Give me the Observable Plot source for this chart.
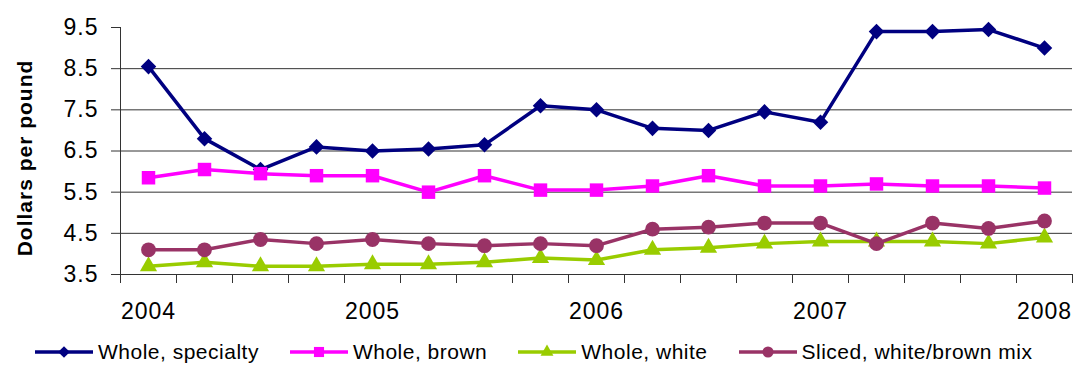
<!DOCTYPE html>
<html>
<head>
<meta charset="utf-8">
<script src="https://cdn.jsdelivr.net/npm/d3@7"></script>
<script src="https://cdn.jsdelivr.net/npm/@observablehq/plot@0.6"></script>
<style>
  body { margin: 0; background: #fff; font-family: "Liberation Sans", Arial, sans-serif; }
  #chart svg text { letter-spacing: 1px; }
  #legend { display: flex; align-items: center; height: 28px; padding-left: 35px; gap: 31px;
            font-size: 21px; letter-spacing: 0.5px; color: #000; }
  .item { display: flex; align-items: center; gap: 5px; white-space: nowrap; }
</style>
</head>
<body>
<div id="chart"></div>
<div id="legend"></div>
<script>
// ---- data ----
const quarters = [
  "2004 Q1", "2004 Q2", "2004 Q3", "2004 Q4",
  "2005 Q1", "2005 Q2", "2005 Q3", "2005 Q4",
  "2006 Q1", "2006 Q2", "2006 Q3", "2006 Q4",
  "2007 Q1", "2007 Q2", "2007 Q3", "2007 Q4",
  "2008 Q1"
];
const yearLabels = ["2004", "2005", "2006", "2007", "2008"];
const yTicks = [3.5, 4.5, 5.5, 6.5, 7.5, 8.5, 9.5];
const seriesNames = ["Whole, specialty", "Whole, brown", "Whole, white", "Sliced, white/brown mix"];
const wholeSpecialty = [8.55, 6.8, 6.05, 6.6, 6.5, 6.55, 6.65, 7.6, 7.5, 7.05, 7.0, 7.45, 7.2, 9.4, 9.4, 9.45, 9.0];
const wholeBrown     = [5.85, 6.05, 5.95, 5.9, 5.9, 5.5, 5.9, 5.55, 5.55, 5.65, 5.9, 5.65, 5.65, 5.7, 5.65, 5.65, 5.6];
const wholeWhite     = [3.7, 3.8, 3.7, 3.7, 3.75, 3.75, 3.8, 3.9, 3.85, 4.1, 4.15, 4.25, 4.3, 4.3, 4.3, 4.25, 4.4];
const slicedMix      = [4.1, 4.1, 4.35, 4.25, 4.35, 4.25, 4.2, 4.25, 4.2, 4.6, 4.65, 4.75, 4.75, 4.25, 4.75, 4.62, 4.8];

// ---- styling ----
const seriesValues = [wholeSpecialty, wholeBrown, wholeWhite, slicedMix];
const seriesColors = ["#000080", "#FF00FF", "#99CC00", "#993366"];
const seriesSymbols = ["diamond2", "square", "triangle", "circle"];
const seriesR = [7, 7.6, 6.4, 7.4];
const d3Symbols = [d3.symbolDiamond2, d3.symbolSquare, d3.symbolTriangle, d3.symbolCircle];

const series = seriesNames.map((name, k) => ({
  name, color: seriesColors[k], symbol: seriesSymbols[k], r: seriesR[k],
  rows: quarters.map((q, i) => ({ i, q, v: seriesValues[k][i] }))
}));

const yearPositions = yearLabels.map(y => quarters.indexOf(y + " Q1"));
const boundaries = d3.range(-0.5, quarters.length, 1);

const marks = [
  Plot.gridY(yTicks.slice(1, -1), { stroke: "#333", strokeOpacity: 1 }),
  Plot.ruleX([-0.5], { y1: yTicks[0], y2: yTicks[yTicks.length - 1], stroke: "#333" }),
  Plot.ruleY([yTicks[0]], { stroke: "#333" }),
  Plot.axisY(yTicks, { tickSize: 9, tickPadding: 13, fontSize: 23, label: null, stroke: "#333", tickFormat: d => d.toFixed(1) }),
  Plot.axisX(boundaries, { tickSize: 9, tickFormat: () => "", label: null, stroke: "#333" }),
  Plot.axisX(yearPositions, { tickSize: 0, tickPadding: 28, fontSize: 23, label: null, tickFormat: i => quarters[i].slice(0, 4) }),
  Plot.text(["Dollars per pound"], { frameAnchor: "left", textAnchor: "middle", lineAnchor: "middle", dx: -95, dy: 7, rotate: -90, fontWeight: "bold", fontSize: 21, fill: "#000" })
];
for (const s of series) {
  marks.push(Plot.line(s.rows, { x: "i", y: "v", stroke: s.color, strokeWidth: 3.5, strokeLinejoin: "round" }));
  marks.push(Plot.dot(s.rows, { x: "i", y: "v", symbol: s.symbol, r: s.r, fill: s.color, stroke: "none" }));
}

const chart = Plot.plot({
  width: 1076,
  height: 338,
  marginTop: 27,
  marginBottom: 64,
  marginLeft: 120,
  marginRight: 4,
  style: { fontFamily: '"Liberation Sans", Arial, sans-serif', fontSize: "23px", color: "#000", background: "#fff", overflow: "visible" },
  x: { domain: [-0.5, quarters.length - 0.5], axis: null },
  y: { domain: [yTicks[0], yTicks[yTicks.length - 1]], axis: null },
  marks
});
document.getElementById("chart").appendChild(chart);

// ---- legend ----
const legend = d3.select("#legend");
series.forEach((s, k) => {
  const item = legend.append("div").attr("class", "item");
  const sw = item.append("svg").attr("width", 58).attr("height", 20);
  sw.append("line").attr("x1", 0).attr("x2", 58).attr("y1", 10).attr("y2", 10)
    .attr("stroke", s.color).attr("stroke-width", 3.5);
  sw.append("path").attr("transform", "translate(29,10)")
    .attr("d", d3.symbol(d3Symbols[k], Math.PI * (s.r * 0.75) ** 2)())
    .attr("fill", s.color);
  item.append("span").text(s.name);
});
</script>
</body>
</html>
